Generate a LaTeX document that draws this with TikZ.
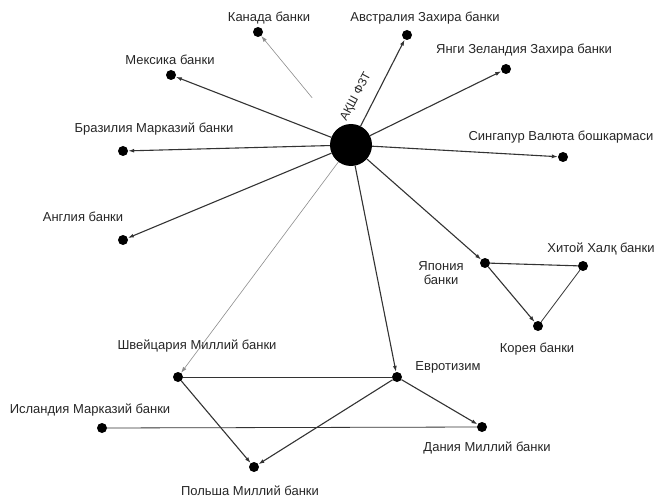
\documentclass[tikz,border=0pt]{standalone}
\usepackage{fontspec}
\setmainfont{Liberation Sans}
\usetikzlibrary{arrows.meta}
\begin{document}
\begin{tikzpicture}[x=1pt,y=-1pt,
  dot/.style={circle,fill=black,inner sep=0pt,minimum size=10pt},
  hub/.style={circle,fill=black,inner sep=0pt,minimum size=42pt},
  lbl/.style={inner sep=0pt,text=black!85,font=\fontsize{13}{14.5}\selectfont},
  link/.style={draw=black!80,line width=1.1pt},
  thinlink/.style={draw=black!45,line width=0.6pt},
  arr/.style={-{Latex[length=6pt,width=4pt]}}
]
\useasboundingbox (0,0) rectangle (659,500);
% hub
\node[hub] (fed) at (351,145) {};
\node[lbl,rotate=62,font=\fontsize{12}{13}\selectfont] (fedl) at (356,97) {АҚШ ФЗТ};
% dots
\node[dot] (can) at (258,32) {};
\node[dot] (aus) at (407,35) {};
\node[dot] (mex) at (171,75) {};
\node[dot] (nz)  at (506,69) {};
\node[dot] (bra) at (123,151) {};
\node[dot] (sin) at (563,157) {};
\node[dot] (eng) at (123,240) {};
\node[dot] (jap) at (485,263) {};
\node[dot] (chi) at (583,266) {};
\node[dot] (kor) at (538,326) {};
\node[dot] (swi) at (178,377) {};
\node[dot] (eur) at (397,377) {};
\node[dot] (ice) at (102,428) {};
\node[dot] (den) at (482,427) {};
\node[dot] (pol) at (254,467) {};
% labels
\node[lbl] (canl) at (269,18) {Канада банки};
\node[lbl] (ausl) at (425,18) {Австралия Захира банки};
\node[lbl] (mexl) at (170,60) {Мексика банки};
\node[lbl] (nzl)  at (524,50) {Янги Зеландия Захира банки};
\node[lbl] (bral) at (154,129) {Бразилия Марказий банки};
\node[lbl] (sinl) at (561,137) {Сингапур Валюта бошкармаси};
\node[lbl] (engl) at (83,217) {Англия банки};
\node[lbl,align=center] (japl) at (441,273) {Япония\\банки};
\node[lbl] (chil) at (601,249) {Хитой Халқ банки};
\node[lbl] (korl) at (537,349) {Корея банки};
\node[lbl] (swil) at (197,346) {Швейцария Миллий банки};
\node[lbl] (eurl) at (448,367) {Евротизим};
\node[lbl] (icel) at (90,410) {Исландия Марказий банки};
\node[lbl] (denl) at (487,448) {Дания Миллий банки};
\node[lbl] (poll) at (250,491) {Польша Миллий банки};
% connectors from hub
\draw[thinlink,arr,shorten <=40pt] (fed) -- (can);
\draw[link,arr] (fed) -- (aus);
\draw[link,arr] (fed) -- (mex);
\draw[link,arr] (fed) -- (nz);
\draw[link,arr] (fed) -- (bra);
\draw[link,arr] (fed) -- (sin);
\draw[link,arr] (fed) -- (eng);
\draw[link,arr] (fed) -- (jap);
\draw[thinlink,arr] (fed) -- (swi);
\draw[link,arr] (fed) -- (eur);
% others
\draw[link,arr] (jap) -- (kor);
\draw[link] (jap) -- (chi);
\draw[link,line width=0.8pt] (chi) -- (kor);
\draw[link,line width=0.9pt] (swi) -- (eur);
\draw[link,arr] (swi) -- (pol);
\draw[link,arr] (eur) -- (pol);
\draw[link,arr] (eur) -- (den);
\draw[link,line width=0.8pt] (ice) -- (den);
\end{tikzpicture}
\end{document}
